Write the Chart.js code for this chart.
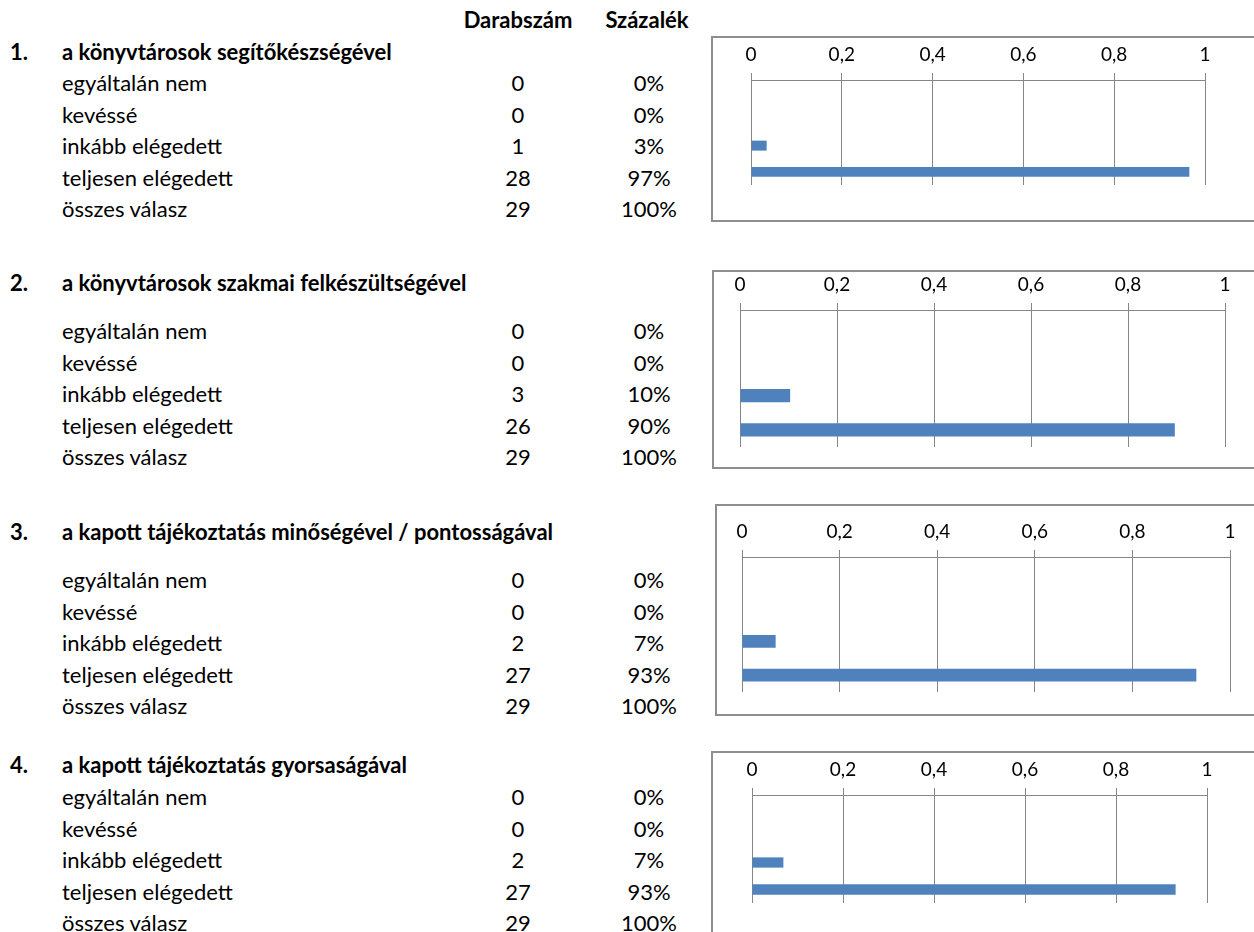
<!DOCTYPE html>
<html lang="hu">
<head>
<meta charset="utf-8">
<title>Elégedettség a könyvtárosokkal</title>
<script src="https://cdn.jsdelivr.net/npm/chart.js@4.4.1/dist/chart.umd.min.js"></script>
<style>
  html, body { margin: 0; padding: 0; background: #fff; }
  body { width: 1254px; height: 932px; overflow: hidden; position: relative;
         font-family: Lato, 'Open Sans', sans-serif; color: #000; }
  .t { position: absolute; white-space: nowrap; font-size: 22px; line-height: 1; transform: translateY(-50%); }
  .b { font-weight: bold; }
  .c { width: 120px; margin-left: -60px; text-align: center; }
  .box { position: absolute; border: 2px solid #8e8e8e; box-sizing: border-box; }
  canvas { position: absolute; }
</style>
</head>
<body>
<script>
const categories = ['egyáltalán nem', 'kevéssé', 'inkább elégedett', 'teljesen elégedett'];
const questions = [
  'a könyvtárosok segítőkészségével',
  'a könyvtárosok szakmai felkészültségével',
  'a kapott tájékoztatás minőségével / pontosságával',
  'a kapott tájékoztatás gyorsaságával'
];
const counts1 = [0, 0, 1, 28];
const counts2 = [0, 0, 3, 26];
const counts3 = [0, 0, 2, 27];
const counts4 = [0, 0, 2, 27];
const allCounts = [counts1, counts2, counts3, counts4];
const tickLabels = ['0', '0,2', '0,4', '0,6', '0,8', '1'];
const colHeaders = ['Darabszám', 'Százalék'];
const totalLabel = 'összes válasz';

// page layout of each block: title line, first row, chart frame and plot edges
const blocks = [
  { titleY: 54,  rowY: 85,  box: [711, 36, 186],  zero: 751, one: 1205, axis: 80,  bottom: 185 },
  { titleY: 285, rowY: 333, box: [712, 270, 199], zero: 740, one: 1225, axis: 310, bottom: 447 },
  { titleY: 534, rowY: 582, box: [715, 504, 212], zero: 742, one: 1230, axis: 557, bottom: 692 },
  { titleY: 767, rowY: 799, box: [711, 751, 300], zero: 752, one: 1207, axis: 795, bottom: 903 }
];
const ROW_STEP = 31.6;
const TEXT_SHIFT = -2;
const COUNT_X = 518;
const PCT_X = 649;
const AXIS_H = 37;

function text(str, x, y, cls) {
  const d = document.createElement('div');
  d.className = 't ' + (cls || '');
  d.textContent = str;
  d.style.left = x + 'px';
  d.style.top = (y + TEXT_SHIFT) + 'px';
  document.body.appendChild(d);
}

text(colHeaders[0], COUNT_X, 22, 'b c');
text(colHeaders[1], 647, 22, 'b c');

function drawBlock(i) {
  const blk = blocks[i];
  const counts = allCounts[i];
  const total = counts.reduce((a, b) => a + b, 0);
  const shares = counts.map(c => c / total);

  text((i + 1) + '.', 10, blk.titleY, 'b');
  text(questions[i], 62, blk.titleY, 'b');
  categories.forEach((cat, r) => {
    const y = blk.rowY + r * ROW_STEP;
    text(cat, 62, y);
    text(String(counts[r]), COUNT_X, y, 'c');
    text(Math.round(shares[r] * 100) + '%', PCT_X, y, 'c');
  });
  const ty = blk.rowY + categories.length * ROW_STEP;
  text(totalLabel, 62, ty);
  text(String(total), COUNT_X, ty, 'c');
  text('100%', PCT_X, ty, 'c');

  // chart frame
  const [bx, by, bh] = blk.box;
  const frame = document.createElement('div');
  frame.className = 'box';
  frame.style.left = bx + 'px';
  frame.style.top = by + 'px';
  frame.style.width = '700px';
  frame.style.height = bh + 'px';
  document.body.appendChild(frame);

  const cl = bx + 2, ct = by + 2;
  const cw = 1254 - cl;
  const ch = Math.min(bh - 4, 932 - ct);
  const canvas = document.createElement('canvas');
  canvas.width = cw;
  canvas.height = ch;
  canvas.style.left = cl + 'px';
  canvas.style.top = ct + 'px';
  document.body.appendChild(canvas);

  new Chart(canvas.getContext('2d'), {
    type: 'bar',
    data: {
      labels: categories,
      datasets: [{
        data: shares,
        backgroundColor: '#4f81bd',
        borderWidth: 0,
        barPercentage: 0.38,
        categoryPercentage: 1
      }]
    },
    options: {
      indexAxis: 'y',
      responsive: false,
      animation: false,
      layout: {
        padding: {
          left: blk.zero - cl,
          right: cl + cw - blk.one,
          top: blk.axis - ct - AXIS_H,
          bottom: ct + ch - blk.bottom
        }
      },
      plugins: { legend: { display: false }, tooltip: { enabled: false } },
      scales: {
        x: {
          position: 'top',
          min: 0,
          max: 1,
          afterFit: s => { s.height = AXIS_H; },
          ticks: {
            stepSize: 0.2,
            padding: 7,
            color: '#000',
            font: { family: 'Lato', size: 19 },
            callback: (v, idx) => tickLabels[idx]
          },
          grid: { color: '#868686', tickColor: '#868686', tickLength: 7, lineWidth: 1 },
          border: { color: '#868686', width: 1 }
        },
        y: { display: false }
      }
    }
  });
}

function drawAll() {
  for (let i = 0; i < blocks.length; i++) drawBlock(i);
}
Promise.all([
  document.fonts.load('19px Lato'),
  document.fonts.load('bold 22px Lato')
]).then(drawAll, drawAll);
</script>
</body>
</html>
